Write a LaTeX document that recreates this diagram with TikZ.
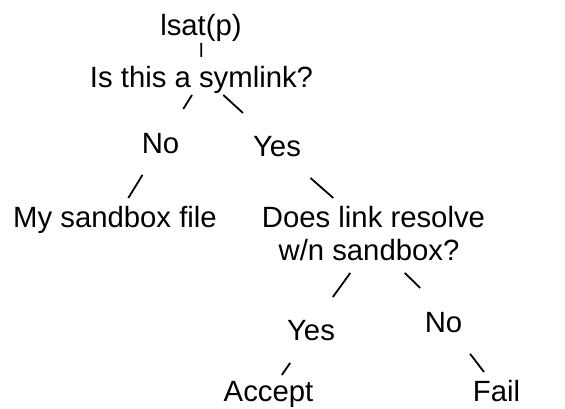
\documentclass[tikz,border=0pt]{standalone}
\usepackage{fontspec}
\setmainfont{Liberation Sans}
\usetikzlibrary{calc}
\begin{document}
\begin{tikzpicture}[x=1pt, y=-1pt,
  label/.style={anchor=base, inner sep=0pt, text height=22pt, text depth=7.3pt,
                font=\fontsize{29.3}{33}\selectfont},
  edge/.style={line width=1.8pt}]
\useasboundingbox (0,0) rectangle (565,408);

% decision tree nodes (positions given by baselines)
\node[label] (lsat)   at (201,35)    {lsat(p)};
\node[label] (is)     at (201.5,87)  {Is this a symlink?};
\node[label] (no1)    at (160.5,153) {No};
\node[label] (yes1)   at (277,156)   {Yes};
\node[label] (mysb)   at (115,227)   {My sandbox file};
\node[label] (does)   at (373.5,227) {Does link resolve};
\node[label] (wn)     at (369,260)   {w/n sandbox?};
\node[label] (yes2)   at (311,340)   {Yes};
\node[label] (no2)    at (443.5,332.7) {No};
\node[label] (accept) at (268.5,401.7) {Accept};
\node[label] (fail)   at (496.5,401.7) {Fail};

% short connector strokes between the texts
\draw[edge] ($(lsat)!0.294!(is)$) -- ($(lsat)!0.563!(is)$);
\draw[edge] ($(is)!0.232!(no1)$) -- ($(is)!0.444!(no1)$);
\draw[edge] ($([xshift=5pt]is)!0.222!([xshift=5pt]yes1)$) -- ($([xshift=5pt]is)!0.483!([xshift=5pt]yes1)$);
\draw[edge] ($(no1)!0.396!(mysb)$) -- ($(no1)!0.707!(mysb)$);
\draw[edge] ($(yes1)!0.413!([xshift=-15.5pt]does)$) -- ($(yes1)!0.694!([xshift=-15.5pt]does)$);
\draw[edge] ($([xshift=-4pt]wn)!0.254!([xshift=-4pt]yes2)$) -- ($([xshift=-4pt]wn)!0.554!([xshift=-4pt]yes2)$);
\draw[edge] ($([xshift=15pt]wn)!0.279!([xshift=15pt]no2)$) -- ($([xshift=15pt]wn)!0.486!([xshift=15pt]no2)$);
\draw[edge] ($(yes2)!0.491!(accept)$) -- ($(yes2)!0.686!(accept)$);
\draw[edge] ($([xshift=4.7pt]no2)!0.414!([xshift=4.7pt]fail)$) -- ($([xshift=4.7pt]no2)!0.675!([xshift=4.7pt]fail)$);
\end{tikzpicture}
\end{document}
